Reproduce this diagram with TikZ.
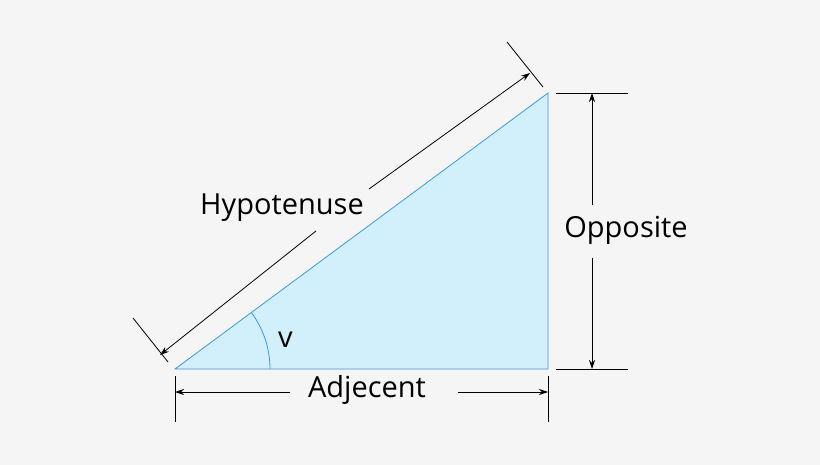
\documentclass[tikz,border=0pt]{standalone}
\usepackage{fontspec}
\setmainfont{Open Sans}
\usetikzlibrary{arrows.meta}
\begin{document}
\begin{tikzpicture}[x=1pt,y=-1pt,
  dim/.style={draw=black, line width=0.8pt},
  arr/.style={dim, -{Stealth[length=9pt,width=6pt]}},
  lbl/.style={font=\fontsize{29}{30}\selectfont, inner sep=0pt}]
\fill[white!96!black] (0,0) rectangle (820,465);
\useasboundingbox (0,0) rectangle (820,465);
\coordinate (A) at (175,369);
\coordinate (B) at (548,369);
\coordinate (C) at (548,93);
\filldraw[fill=cyan!18, draw=cyan!70!blue!80, line width=0.8pt] (A) -- (B) -- (C) -- cycle;
\draw[cyan!70!blue!80, line width=0.8pt] (270,369) arc[start angle=0, end angle=-36.5, radius=95];
\node[lbl, anchor=west] (v) at (278,340) {v};
% hypotenuse
\coordinate (h1) at (160,355); \coordinate (h2) at (530,73);
\coordinate (g1) at (316,231); \coordinate (g2) at (369,189);
\coordinate (t1a) at (133,318); \coordinate (t1b) at (168,362);
\coordinate (t2a) at (507,42); \coordinate (t2b) at (543,87);
\draw[dim] (t1a) -- (t1b); \draw[dim] (t2a) -- (t2b);
\draw[arr] (g1) -- (h1); \draw[arr] (g2) -- (h2);
\node[lbl] (hyp) at (282,208) {Hypotenuse};
% opposite
\coordinate (o1a) at (556,93); \coordinate (o1b) at (628,93);
\coordinate (o2a) at (556,369); \coordinate (o2b) at (628,369);
\draw[dim] (o1a) -- (o1b); \draw[dim] (o2a) -- (o2b);
\coordinate (p1) at (592,93); \coordinate (p2) at (592,369);
\coordinate (q1) at (592,205); \coordinate (q2) at (592,258);
\draw[arr] (q1) -- (p1); \draw[arr] (q2) -- (p2);
\node[lbl] (opp) at (626,230) {Opposite};
% adjacent
\coordinate (a1a) at (175,376); \coordinate (a1b) at (175,422);
\coordinate (a2a) at (548,376); \coordinate (a2b) at (548,422);
\draw[dim] (a1a) -- (a1b); \draw[dim] (a2a) -- (a2b);
\coordinate (r1) at (175,392); \coordinate (r2) at (548,392);
\coordinate (s1) at (290,392); \coordinate (s2) at (458,392);
\draw[arr] (s1) -- (r1); \draw[arr] (s2) -- (r2);
\node[lbl] (adj) at (367,390) {Adjecent};
\end{tikzpicture}
\end{document}
